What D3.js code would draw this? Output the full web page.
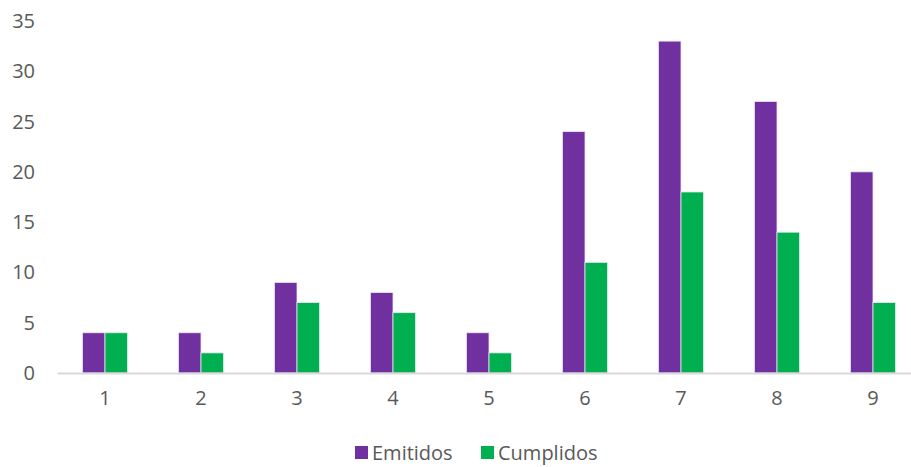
<!DOCTYPE html>
<html>
<head>
<meta charset="utf-8">
<script src="https://cdn.jsdelivr.net/npm/d3@7"></script>
<style>
  body { margin: 0; background: #fff; }
  svg { display: block; font-family: "Open Sans", "Liberation Sans", sans-serif; }
</style>
</head>
<body>
<svg id="chart" width="911" height="467"></svg>
<script>
const categories = ['1', '2', '3', '4', '5', '6', '7', '8', '9']
const emitidos = [4, 4, 9, 8, 4, 24, 33, 27, 20]
const cumplidos = [4, 2, 7, 6, 2, 11, 18, 14, 7]
const seriesNames = ['Emitidos', 'Cumplidos']
const colors = ['#7030A0', '#00B050']
const yTicks = [0, 5, 10, 15, 20, 25, 30, 35]

const svg = d3.select('#chart')
const width = 911, height = 467
const margin = ({ top: 21, right: -10, bottom: 94, left: 57 })

const rows = categories.map((c, i) => ({ cat: c, values: [emitidos[i], cumplidos[i]] }))

const x = d3.scaleBand()
    .domain(categories)
    .range([margin.left, width - margin.right])
    .paddingInner(0.53)
    .paddingOuter(0.265)
const x1 = d3.scaleBand()
    .domain(seriesNames)
    .range([0, x.bandwidth()])
const y = d3.scaleLinear()
    .domain([0, 35])
    .range([height - margin.bottom, margin.top])

// y labels (no axis line)
svg.append('g')
    .selectAll('text')
    .data(yTicks)
    .join('text')
    .attr('x', 35)
    .attr('y', d => y(d))
    .attr('dy', '0.35em')
    .attr('text-anchor', 'end')
    .attr('fill', '#595959')
    .attr('font-size', 20)
    .text(d => d)

// bars
svg.append('g')
    .selectAll('g')
    .data(rows)
    .join('g')
    .attr('transform', d => `translate(${x(d.cat)},0)`)
    .selectAll('rect')
    .data(d => d.values.map((v, i) => ({ name: seriesNames[i], v })))
    .join('rect')
    .attr('x', d => x1(d.name))
    .attr('y', d => y(d.v))
    .attr('width', x1.bandwidth())
    .attr('height', d => y(0) - y(d.v))
    .attr('fill', (d, i) => colors[i])
    .attr('stroke', '#e8e8f0')
    .attr('stroke-width', 0.8)

// x axis
const xAxis = g => g
    .attr('transform', `translate(0,${y(0)})`)
    .call(d3.axisBottom(x).tickSize(0).tickPadding(18))
    .call(g => g.select('.domain').attr('stroke', '#d9d9d9').attr('stroke-width', 2))
    .call(g => g.selectAll('text').attr('fill', '#595959').attr('font-size', 20)
        .attr('font-family', '"Open Sans", "Liberation Sans", sans-serif'))
svg.append('g').call(xAxis)

// legend
const legendPos = [355, 481]
const legend = svg.append('g')
    .selectAll('g')
    .data(seriesNames)
    .join('g')
    .attr('transform', (d, i) => `translate(${legendPos[i]},446)`)
legend.append('rect')
    .attr('width', 13)
    .attr('height', 13)
    .attr('fill', (d, i) => colors[i])
legend.append('text')
    .attr('x', 17)
    .attr('y', 7)
    .attr('dy', '0.35em')
    .attr('fill', '#595959')
    .attr('font-size', 20)
    .text(d => d)
</script>
</body>
</html>
